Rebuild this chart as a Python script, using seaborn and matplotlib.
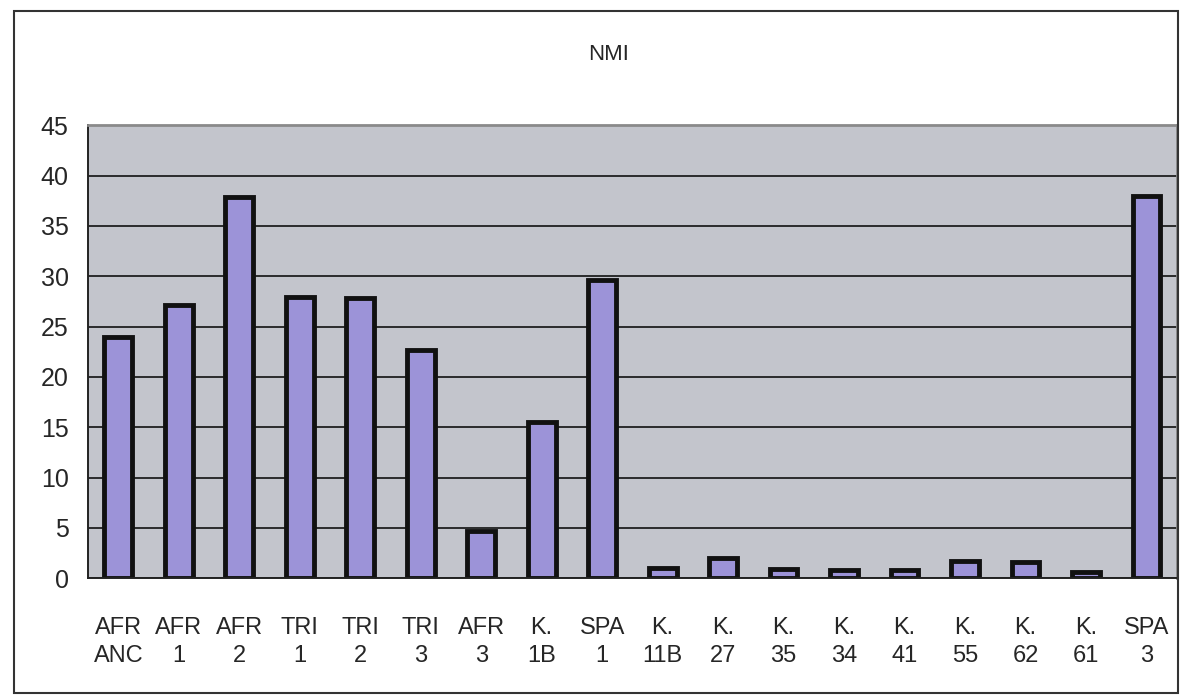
import numpy as np
import pandas as pd
import matplotlib
matplotlib.use("Agg")
import matplotlib.pyplot as plt
import seaborn as sns
from matplotlib.patches import Rectangle

# values
samples = ["AFR\nANC", "AFR\n1", "AFR\n2", "TRI\n1", "TRI\n2", "TRI\n3", "AFR\n3",
           "K.\n1B", "SPA\n1", "K.\n11B", "K.\n27", "K.\n35", "K.\n34", "K.\n41",
           "K.\n55", "K.\n62", "K.\n61", "SPA\n3"]
nmi = [24.0, 27.1, 37.9, 27.9, 27.8, 22.7, 4.7, 15.5, 29.6,
       1.0, 2.0, 0.9, 0.8, 0.8, 1.7, 1.6, 0.6, 38.0]
y_ticks = [0, 5, 10, 15, 20, 25, 30, 35, 40, 45]

df = pd.DataFrame({"sample": samples, "NMI": nmi})

sns.set_style("white")
plt.rcParams["font.family"] = ["Liberation Sans", "DejaVu Sans"]

fig = plt.figure(figsize=(11.82, 7), dpi=100)
ax = fig.add_axes([0.0745, 0.174, 0.921, 0.647])

sns.barplot(data=df, x="sample", y="NMI", ax=ax, color="#9c93d8",
            edgecolor="#111111", linewidth=3.5, width=0.46, saturation=1)

ax.set_facecolor("#c3c5cc")
ax.set_ylim(0, 45)
ax.set_xlim(-0.5, len(samples) - 0.5)
ax.set_yticks(y_ticks)
ax.set_yticklabels([str(t) for t in y_ticks], fontsize=18)
ax.yaxis.grid(True, color="#111111", linewidth=1.2)
ax.set_axisbelow(True)

# excel style: ticks between categories, labels under the bars
ax.set_xticks(range(len(samples)))
ax.set_xticklabels(samples, fontsize=17, linespacing=1.35)
ax.tick_params(axis="x", length=0, pad=28)
ax.set_xticks(np.arange(-0.5, len(samples), 1.0), minor=True)
ax.tick_params(axis="x", which="minor", length=8, width=1.2, color="#222222", direction="out")
ax.tick_params(axis="y", length=8, width=1.2, color="#222222", direction="out", pad=6)

ax.set_xlabel("")
ax.set_ylabel("")
for side in ["left", "bottom"]:
    ax.spines[side].set_color("#222222")
    ax.spines[side].set_linewidth(1.4)
for side in ["top", "right"]:
    ax.spines[side].set_color("#8a8a8a")
    ax.spines[side].set_linewidth(2)
    ax.spines[side].set_visible(True)

fig.text(0.515, 0.922, "NMI", ha="center", va="center", fontsize=16)

# outer chart border
fig.patches.append(Rectangle((0.012, 0.01), 0.985, 0.975, transform=fig.transFigure,
                             fill=False, edgecolor="#333333", linewidth=1.5))

fig.savefig("out.png", dpi=100)
plt.close()
